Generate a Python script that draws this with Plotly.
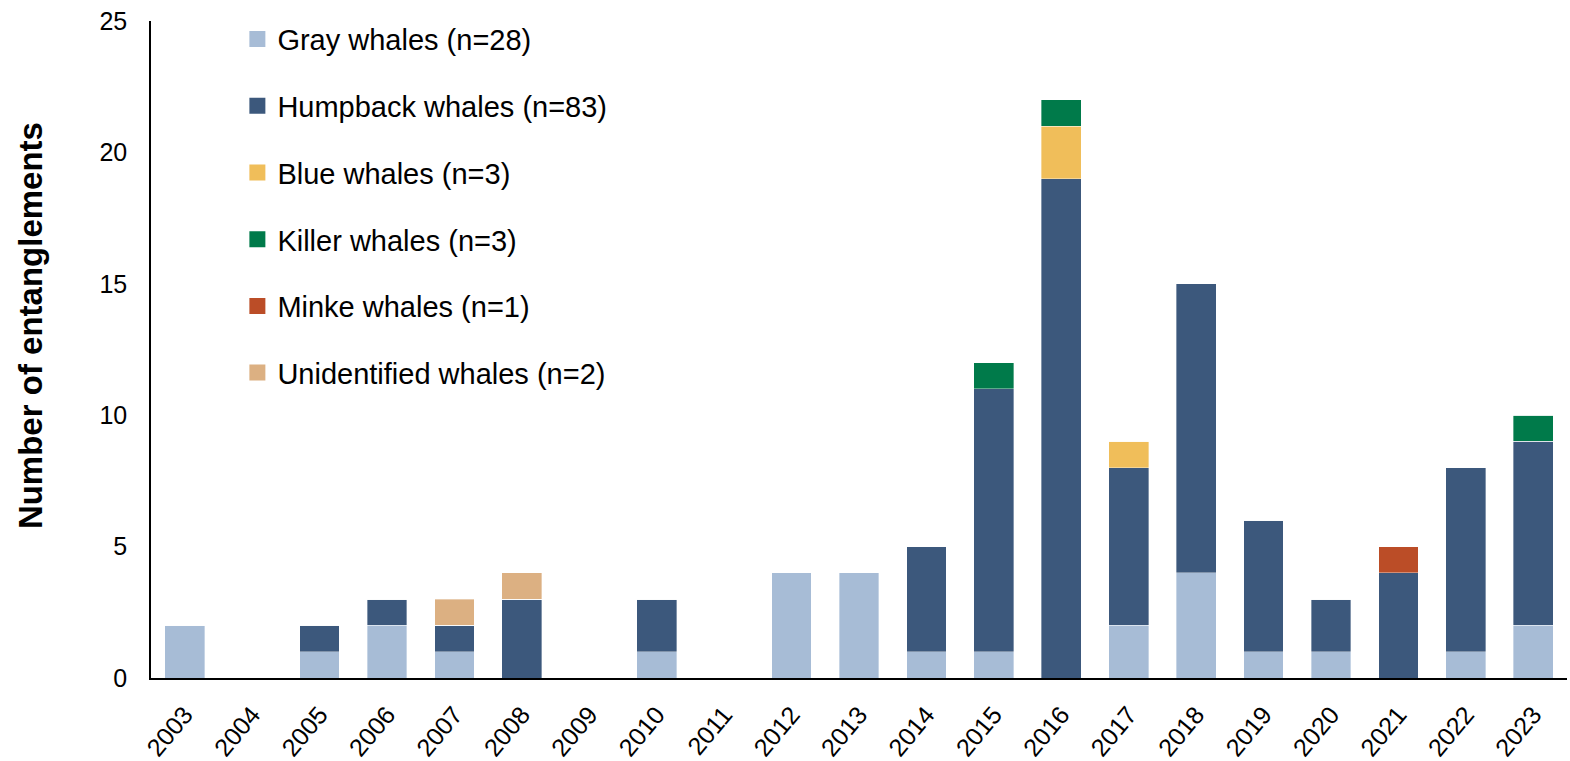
import plotly.graph_objects as go

years = [str(y) for y in range(2003, 2024)]

gray       = [2, 0, 1, 2, 1, 0, 0, 1, 0, 4, 4, 1, 1, 0, 2, 4, 1, 1, 0, 1, 2]
humpback   = [0, 0, 1, 1, 1, 3, 0, 2, 0, 0, 0, 4, 10, 19, 6, 11, 5, 2, 4, 7, 7]
blue       = [0, 0, 0, 0, 0, 0, 0, 0, 0, 0, 0, 0, 0, 2, 1, 0, 0, 0, 0, 0, 0]
killer     = [0, 0, 0, 0, 0, 0, 0, 0, 0, 0, 0, 0, 1, 1, 0, 0, 0, 0, 0, 0, 1]
minke      = [0, 0, 0, 0, 0, 0, 0, 0, 0, 0, 0, 0, 0, 0, 0, 0, 0, 0, 1, 0, 0]
unknown    = [0, 0, 0, 0, 1, 1, 0, 0, 0, 0, 0, 0, 0, 0, 0, 0, 0, 0, 0, 0, 0]

series = [
    ("Gray whales (n=28)",         gray,     "#A7BCD6"),
    ("Humpback whales (n=83)",     humpback, "#3C587C"),
    ("Blue whales (n=3)",          blue,     "#F0BE5A"),
    ("Killer whales (n=3)",        killer,   "#007A4A"),
    ("Minke whales (n=1)",         minke,    "#BB4D27"),
    ("Unidentified whales (n=2)",  unknown,  "#DCB082"),
]

font = "Liberation Sans, Arial, sans-serif"

fig = go.Figure()
for i, (name, vals, color) in enumerate(series):
    fig.add_trace(go.Bar(
        x=years, y=vals, name=name, legendgroup=f"g{i}", showlegend=False,
        marker=dict(color=color, line=dict(color="rgba(255,255,255,0.6)", width=0.6)),
    ))
    # legend-only entry so the swatch is a bigger square
    fig.add_trace(go.Scatter(
        x=[None], y=[None], mode="markers", name=name, legendgroup=f"g{i}",
        marker=dict(symbol="square", size=17, color=color),
    ))

fig.update_layout(
    barmode="stack", bargap=0.41,
    width=1570, height=761,
    margin=dict(l=151, r=3, t=21, b=83, autoexpand=False),
    paper_bgcolor="white", plot_bgcolor="white",
    font=dict(family=font, size=25, color="#000"),
    legend=dict(
        x=0.061, y=1.011, xanchor="left", yanchor="top",
        traceorder="grouped", tracegroupgap=26, maxheight=1,
        font=dict(size=29), bgcolor="rgba(0,0,0,0)",
    ),
    xaxis=dict(
        tickangle=-50, showline=True, linecolor="#000", linewidth=2,
        ticks="", tickfont=dict(size=25), showgrid=False, automargin=False,
        ticklabelstandoff=10,
    ),
    yaxis=dict(
        range=[0, 25], dtick=5, showline=True, linecolor="#000", linewidth=1.5,
        showgrid=False, zeroline=False, ticks="", ticklabelstandoff=17,
        tickfont=dict(size=25), automargin=False,
    ),
    annotations=[dict(
        text="<b>Number of entanglements</b>", textangle=-90,
        xref="paper", yref="paper", x=-0.0855, y=0.537,
        xanchor="center", yanchor="middle", showarrow=False,
        font=dict(size=33),
    )],
)

fig.write_html("out.html", config={"displayModeBar": False},
               post_script="document.body.style.margin='0';")
